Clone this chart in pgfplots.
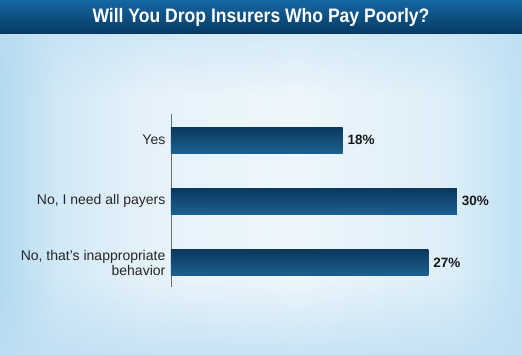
\documentclass[border=0pt]{standalone}
\usepackage{pgfplots}
\pgfplotsset{compat=1.18}
\usetikzlibrary{fadings}
\usepackage{fontspec}
\setmainfont{Liberation Sans}
\newfontfamily\titlefont[FakeStretch=0.9]{Liberation Sans}
\definecolor{bg0}{HTML}{B2D9F0}
\definecolor{bg1}{HTML}{D2E9F6}
\definecolor{bg2}{HTML}{E6F2FA}
\definecolor{bg3}{HTML}{EDF6FC}
\definecolor{bg4}{HTML}{DCEEF8}
\definecolor{bg5}{HTML}{BEE1F4}
\definecolor{bgBot}{HTML}{BFDFF3}
\definecolor{titleT}{HTML}{1567A2}
\definecolor{titleB}{HTML}{073861}
\definecolor{barT}{HTML}{0B385D}
\definecolor{barB}{HTML}{1C6090}
\definecolor{axgray}{HTML}{6E6E6E}
\pgfdeclarehorizontalshading{bgshade}{100bp}{color(0bp)=(bg0); color(25bp)=(bg0); color(30.7bp)=(bg1); color(39.4bp)=(bg2); color(53.7bp)=(bg3); color(68.1bp)=(bg4); color(75bp)=(bg5); color(100bp)=(bg5)}
\begin{document}
\begin{tikzpicture}[x=1pt,y=1pt]
\shade[shading=bgshade] (0,0) rectangle (522,355);
\fill[bgBot, path fading=north, fill opacity=0.8] (0,0) rectangle (522,75);
\fill[bgBot, path fading=south, fill opacity=0.5] (0,261) rectangle (522,321);
\shade[top color=titleT, bottom color=titleB] (0,321) rectangle (522,355);
\node[text=white, font=\titlefont\bfseries\fontsize{19.5}{22}\selectfont] at (261,337.5) {Will You Drop Insurers Who Pay Poorly?};
\begin{axis}[
  at={(171pt,68pt)}, anchor=south west,
  scale only axis, width=333.55pt, height=172.7pt,
  xmin=0, xmax=35, ymin=-0.4, ymax=2.42,
  xbar, bar width=26pt, bar shift=0pt,
  axis x line=none, axis y line=left,
  y axis line style={-, draw=axgray, line width=0.8pt},
  ytick={0,1,2},
  yticklabels={{No, that’s inappropriate\\behavior},{No, I need all payers},{Yes}},
  ytick style={draw=none},
  yticklabel style={align=right, font=\fontsize{14}{15}\selectfont, text=black!85},
  point meta=x,
  /pgf/number format/assume math mode=true,
  nodes near coords={\pgfmathprintnumber\pgfplotspointmeta\%},
  nodes near coords style={font=\bfseries\fontsize{13.5}{15}\selectfont, text=black!90, anchor=west, xshift=1.5pt},
  clip=false,
  every axis plot/.append style={draw=none, top color=barT, bottom color=barB},
]
\addplot coordinates {(27,0)};
\addplot coordinates {(30,1)};
\addplot coordinates {(18,2)};
\end{axis}
\end{tikzpicture}
\end{document}
